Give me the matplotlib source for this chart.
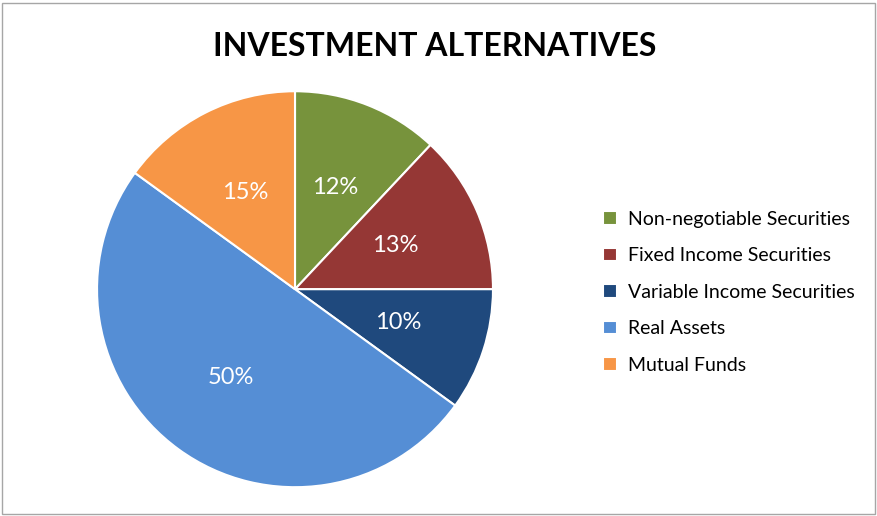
import matplotlib.pyplot as plt
from matplotlib.patches import Rectangle

plt.rcParams['font.family'] = ['Lato', 'DejaVu Sans']

# data
categories = ["Non-negotiable Securities", "Fixed Income Securities",
              "Variable Income Securities", "Real Assets", "Mutual Funds"]
shares = [12, 13, 10, 50, 15]
colors = ["#77933C", "#953735", "#1F497D", "#558ED5", "#F79646"]

fig = plt.figure(figsize=(8.78, 5.16), dpi=100)
fig.patches.append(Rectangle((0.002, 0.004), 0.995, 0.99, transform=fig.transFigure,
                             fill=False, edgecolor="#A6A6A6", linewidth=1))

ax = fig.add_axes([0.108, 0.052, 0.456, 0.775])
wedges, texts, autotexts = ax.pie(
    shares, colors=colors, startangle=90, counterclock=False,
    autopct="%d%%", pctdistance=0.55,
    wedgeprops=dict(edgecolor="white", linewidth=1.5),
    textprops=dict(color="white", fontsize=17))
ax.set_aspect("equal")
ax.set_xlim(-1.01, 1.01)
ax.set_ylim(-1.01, 1.01)

fig.text(0.495, 0.91, "INVESTMENT ALTERNATIVES", ha="center", va="center",
         fontsize=23, fontweight="bold", color="black")

fig.legend(wedges, categories, loc="upper left", bbox_to_anchor=(0.667, 0.625),
           frameon=False, fontsize=14, handlelength=0.7, handleheight=0.7,
           handletextpad=0.6, labelspacing=1.0)

fig.savefig("out.png", dpi=100)
